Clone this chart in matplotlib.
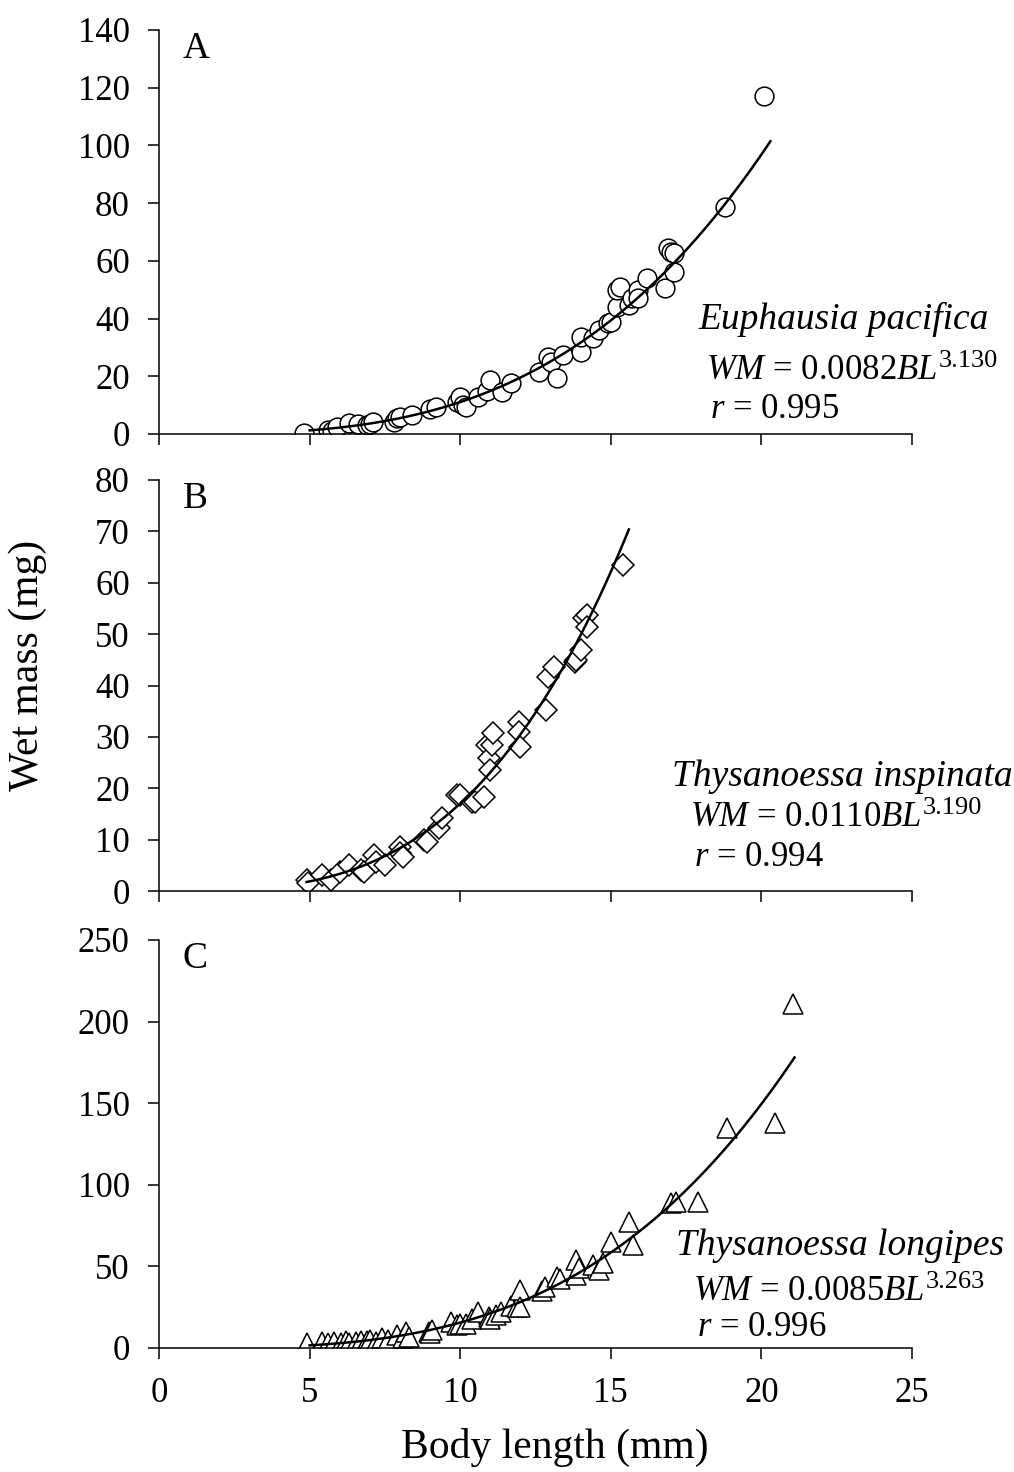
import numpy as np
import matplotlib
matplotlib.use('Agg')
import matplotlib.pyplot as plt

plt.rcParams['font.family'] = 'Liberation Serif'
plt.rcParams['mathtext.fontset'] = 'custom'
plt.rcParams['mathtext.rm'] = 'Liberation Serif'
plt.rcParams['mathtext.it'] = 'Liberation Serif:italic'

# Panel A - Euphausia pacifica
xA = [4.8, 5.6, 5.75, 5.9, 6.3, 6.6, 6.9, 7.0, 7.1, 7.8, 7.9, 8.0, 8.4, 9.0, 9.2,
      9.9, 10.0, 10.1, 10.2, 10.6, 10.9, 11.0, 11.4, 11.7, 12.6, 12.9, 13.0, 13.2,
      13.4, 14.0, 14.0, 14.4, 14.6, 14.9, 15.0, 15.2, 15.2, 15.3, 15.6, 15.7, 15.9,
      15.9, 16.2, 16.8, 16.9, 17.0, 17.1, 17.1, 18.8, 20.1]
yA = [0.5, 1.4, 1.0, 2.5, 3.8, 3.5, 3.0, 3.5, 4.0, 4.0, 5.5, 6.0, 6.6, 8.7, 9.4,
      11.0, 12.8, 10.0, 9.4, 12.8, 15.0, 18.7, 14.5, 17.6, 21.5, 26.7, 25.0, 19.4,
      27.4, 28.4, 33.6, 33.3, 36.0, 38.5, 38.8, 44.0, 49.9, 51.0, 44.7, 47.0, 49.9,
      47.0, 54.0, 50.6, 64.4, 63.0, 62.7, 56.0, 78.7, 117.0]

# Panel B - Thysanoessa inspinata
xB = [4.9, 4.95, 5.4, 5.7, 6.0, 6.3, 6.7, 6.8, 7.15, 7.2, 7.5, 8.0, 8.0, 8.1, 8.8,
      8.9, 9.3, 9.4, 9.9, 10.0, 10.4, 10.5, 10.8, 10.9, 10.95, 11.0, 11.05, 11.1,
      11.95, 11.95, 12.0, 12.85, 12.9, 13.1, 13.8, 13.85, 14.0, 14.1, 14.2, 14.2, 15.4]
yB = [2.1, 1.6, 3.1, 2.1, 3.7, 5.1, 4.1, 3.7, 7.0, 5.6, 5.1, 8.6, 7.4, 6.6, 9.9,
      9.5, 12.3, 14.2, 18.7, 18.7, 17.3, 17.3, 18.3, 28.4, 25.9, 23.6, 28.4, 30.8,
      32.9, 31.0, 28.0, 35.2, 41.7, 43.6, 44.6, 45.0, 46.9, 53.1, 53.7, 51.4, 63.4]

# Panel C - Thysanoessa longipes
xC = [4.9, 5.4, 5.6, 5.8, 6.05, 6.2, 6.3, 6.55, 6.7, 6.9, 7.0, 7.2, 7.4, 7.6, 7.9,
      8.1, 8.2, 8.3, 8.95, 9.0, 9.05, 9.7, 9.9, 10.0, 10.2, 10.4, 10.6, 10.95, 11.0,
      11.2, 11.35, 11.7, 11.9, 12.0, 12.0, 12.7, 12.8, 13.2, 13.3, 13.85, 13.85,
      13.95, 14.4, 14.6, 14.75, 15.0, 15.6, 15.75, 17.0, 17.15, 17.9, 18.85, 20.45, 21.05]
yC = [3, 3.7, 3, 3.7, 3, 4.5, 3, 3.7, 4, 4.3, 5, 3.7, 6, 5, 8,
      6, 10, 7, 10, 9, 11, 16, 14, 15, 15, 18, 22, 19, 18,
      20, 22, 26, 25, 35.5, 25, 35, 37.5, 43.5, 42, 54, 45,
      49, 51, 48, 52, 65, 77, 63, 89, 89.5, 89.5, 135, 138, 211]

# fitted power curves WM = a * BL^b, drawn over the given range
fits = {
    'A': (0.0082, 3.130, 5.0, 20.3),
    'B': (0.0110, 3.190, 4.9, 15.6),
    'C': (0.0085, 3.263, 5.0, 21.1),
}

fig = plt.figure(figsize=(10.14, 14.72), dpi=100)
W, H = 1014, 1472

def box(top, bottom):
    return [159 / W, 1 - bottom / H, 753 / W, (bottom - top) / H]

axA = fig.add_axes(box(30, 434))
axB = fig.add_axes(box(480, 891))
axC = fig.add_axes(box(940, 1348))

panels = [
    (axA, xA, yA, 'o', 13.5, 'A', 140, 20),
    (axB, xB, yB, 'D', 11, 'B', 80, 10),
    (axC, xC, yC, '^', 14.5, 'C', 250, 50),
]

for ax, x, y, mk, ms, key, ymax, ystep in panels:
    ax.plot(x, y, linestyle='none', marker=mk, markersize=ms, markerfacecolor='white',
            markeredgecolor='black', markeredgewidth=1.1, zorder=2)
    a, b, x0, x1 = fits[key]
    xs = np.linspace(x0, x1, 200)
    ax.plot(xs, a * xs ** b, color='black', linewidth=1.8, zorder=3)
    ax.set_xlim(0, 25)
    ax.set_ylim(0, ymax)
    ax.set_xticks(np.arange(0, 26, 5))
    ax.set_yticks(np.arange(0, ymax + 1, ystep))
    ax.spines['top'].set_visible(False)
    ax.spines['right'].set_visible(False)
    for s in ['left', 'bottom']:
        ax.spines[s].set_linewidth(1.1)
    ax.tick_params(direction='out', length=8, width=1.1, labelsize=25, pad=13)
    if key != 'C':
        ax.tick_params(axis='x', labelbottom=False)

def t(px, py, s, **kw):
    # py is the text baseline in pixels from the top
    return fig.text(px / W, 1 - py / H, s, va='baseline', ha='left', **kw)

# equation with superscript placed right after the main text
def eq(px, py, main, sup):
    txt = t(px, py, main, fontsize=25)
    fig.canvas.draw()
    bb = txt.get_window_extent()
    fig.text(bb.x1 / W + 0.001, 1 - (py - 12) / H, sup, va='baseline', ha='left', fontsize=19)

# panel letters
t(183, 58, 'A', fontsize=27)
t(183, 508, 'B', fontsize=27)
t(183, 968, 'C', fontsize=27)

# species and equations
t(698, 329, 'Euphausia pacifica', fontsize=27, style='italic')
eq(706, 379, r'$\mathit{WM}$ = 0.0082$\mathit{BL}$', '3.130')
t(710, 418, r'$\mathit{r}$ = 0.995', fontsize=25)

t(672, 786, 'Thysanoessa inspinata', fontsize=27, style='italic')
eq(690, 826, r'$\mathit{WM}$ = 0.0110$\mathit{BL}$', '3.190')
t(694, 866, r'$\mathit{r}$ = 0.994', fontsize=25)

t(676, 1255, 'Thysanoessa longipes', fontsize=27, style='italic')
eq(693, 1300, r'$\mathit{WM}$ = 0.0085$\mathit{BL}$', '3.263')
t(697, 1336, r'$\mathit{r}$ = 0.996', fontsize=25)

# axis labels
fig.text(28 / W, 1 - 665 / H, 'Wet mass (mg)', rotation=90, va='center', ha='center', fontsize=30)
fig.text(555 / W, 1 - 1447 / H, 'Body length (mm)', va='center', ha='center', fontsize=30)

fig.savefig('out.png', dpi=100)
